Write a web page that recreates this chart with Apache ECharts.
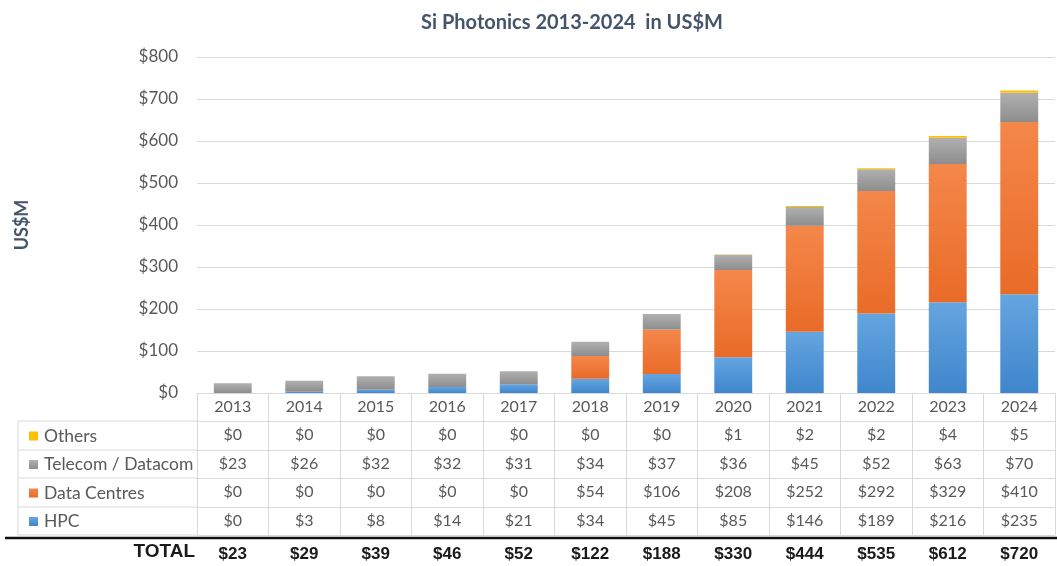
<!DOCTYPE html>
<html>
<head>
<meta charset="utf-8">
<script src="https://cdn.jsdelivr.net/npm/echarts@6/dist/echarts.min.js"></script>
<style>
  html, body { margin: 0; padding: 0; background: #fff; }
  #main { width: 1057px; height: 566px; }
</style>
</head>
<body>
<div id="main"></div>
<script>
var years = ['2013', '2014', '2015', '2016', '2017', '2018', '2019', '2020', '2021', '2022', '2023', '2024'];
var others = [0, 0, 0, 0, 0, 0, 0, 1, 2, 2, 4, 5];
var telecom = [23, 26, 32, 32, 31, 34, 37, 36, 45, 52, 63, 70];
var dataCentres = [0, 0, 0, 0, 0, 54, 106, 208, 252, 292, 329, 410];
var hpc = [0, 3, 8, 14, 21, 34, 45, 85, 146, 189, 216, 235];
var totals = [23, 29, 39, 46, 52, 122, 188, 330, 444, 535, 612, 720];
var yTicks = [0, 800, 100]; // min, max, step

var font = 'Lato, "Open Sans", sans-serif';
var gridLine = '#d9d9d9';
var textGray = '#595959';

function grad(top, bottom) {
    return new echarts.graphic.LinearGradient(0, 0, 0, 1, [
        { offset: 0, color: top },
        { offset: 1, color: bottom }
    ]);
}

// one table row = one extra x axis under the plot
function rowAxis(values, offset, tickLen) {
    return {
        type: 'category',
        data: years,
        gridIndex: 0,
        position: 'bottom',
        offset: offset,
        axisLine: { show: true, lineStyle: { color: gridLine, width: 1 } },
        axisTick: { show: true, alignWithLabel: false, interval: 0, length: tickLen, lineStyle: { color: gridLine } },
        axisLabel: {
            interval: 0, margin: 6, fontFamily: font, fontSize: 16, color: textGray,
            formatter: function (v, i) { return '$' + values[i]; }
        },
        splitLine: { show: false }
    };
}

var chart = echarts.init(document.getElementById('main'));
var option = {
    backgroundColor: '#fff',
    animation: false,
    title: {
        text: 'Si Photonics 2013-2024  in US$M',
        left: 567, top: 8, textAlign: 'center',
        textStyle: { fontFamily: font, fontSize: 20, fontWeight: 'bold', color: '#44546a' }
    },
    legend: {
        data: ['Others', 'Telecom / Datacom', 'Data Centres', 'HPC'],
        orient: 'vertical',
        left: 24, top: 422,
        icon: 'rect', itemWidth: 9, itemHeight: 9, itemGap: 10.5,
        selectedMode: false,
        textStyle: { fontFamily: font, fontSize: 17.5, color: textGray, lineHeight: 18, padding: [0, 0, 0, 1] }
    },
    grid: { left: 197, right: 2, top: 57, bottom: 173, containLabel: false },
    yAxis: {
        type: 'value',
        min: yTicks[0], max: yTicks[1], interval: yTicks[2],
        name: 'US$M', nameLocation: 'middle', nameGap: 166,
        nameTextStyle: { fontFamily: font, fontSize: 18, fontWeight: 'bold', color: '#44546a' },
        axisLine: { show: false }, axisTick: { show: false },
        axisLabel: { margin: 19, fontFamily: font, fontSize: 17, color: textGray, formatter: function (v) { return '$' + v; } },
        splitLine: { lineStyle: { color: gridLine, width: 1 } }
    },
    xAxis: [
        {
            type: 'category', data: years, position: 'bottom',
            axisLine: { show: true, lineStyle: { color: gridLine } },
            axisTick: { show: true, alignWithLabel: false, interval: 0, length: 28, lineStyle: { color: gridLine } },
            axisLabel: { interval: 0, margin: 6, fontFamily: font, fontSize: 16, color: textGray }
        },
        rowAxis(others, 28, 29),
        rowAxis(telecom, 57, 28),
        rowAxis(dataCentres, 85, 29),
        rowAxis(hpc, 114, 28),
        {
            type: 'category', data: years, position: 'bottom', offset: 142,
            axisLine: { show: true, lineStyle: { color: gridLine } },
            axisTick: { show: false },
            axisLabel: {
                interval: 0, margin: 11, fontFamily: '"Liberation Sans", Arial, sans-serif',
                fontSize: 17, fontWeight: 'bold', color: '#1a1a1a',
                formatter: function (v, i) { return '$' + totals[i]; }
            }
        }
    ],
    graphic: [
        // left column of the data table
        { type: 'line', shape: { x1: 18, y1: 421, x2: 197, y2: 421 }, style: { stroke: gridLine, lineWidth: 1 } },
        { type: 'line', shape: { x1: 18, y1: 450, x2: 197, y2: 450 }, style: { stroke: gridLine, lineWidth: 1 } },
        { type: 'line', shape: { x1: 18, y1: 478, x2: 197, y2: 478 }, style: { stroke: gridLine, lineWidth: 1 } },
        { type: 'line', shape: { x1: 18, y1: 507, x2: 197, y2: 507 }, style: { stroke: gridLine, lineWidth: 1 } },
        { type: 'line', shape: { x1: 18, y1: 535, x2: 197, y2: 535 }, style: { stroke: gridLine, lineWidth: 1 } },
        { type: 'line', shape: { x1: 18, y1: 421, x2: 18, y2: 535 }, style: { stroke: gridLine, lineWidth: 1 } },
        { type: 'line', shape: { x1: 5, y1: 538, x2: 1057, y2: 538 }, style: { stroke: '#111', lineWidth: 2.5 } },
        {
            type: 'text', right: 862, top: 542,
            style: { text: 'TOTAL', font: 'bold 19px "Liberation Sans", Arial, sans-serif', fill: '#1a1a1a' }
        }
    ],
    series: [
        { name: 'HPC', type: 'bar', stack: 'si', barWidth: '53%', data: hpc,
          itemStyle: { color: grad('#65a5e0', '#3f86cc') } },
        { name: 'Data Centres', type: 'bar', stack: 'si', data: dataCentres,
          itemStyle: { color: grad('#f4874a', '#e96b28') } },
        { name: 'Telecom / Datacom', type: 'bar', stack: 'si', data: telecom,
          itemStyle: { color: grad('#b0b0b0', '#8d8d8d') } },
        { name: 'Others', type: 'bar', stack: 'si', data: others,
          itemStyle: { color: '#ffc000' } }
    ]
};
chart.setOption(option);
</script>
</body>
</html>
